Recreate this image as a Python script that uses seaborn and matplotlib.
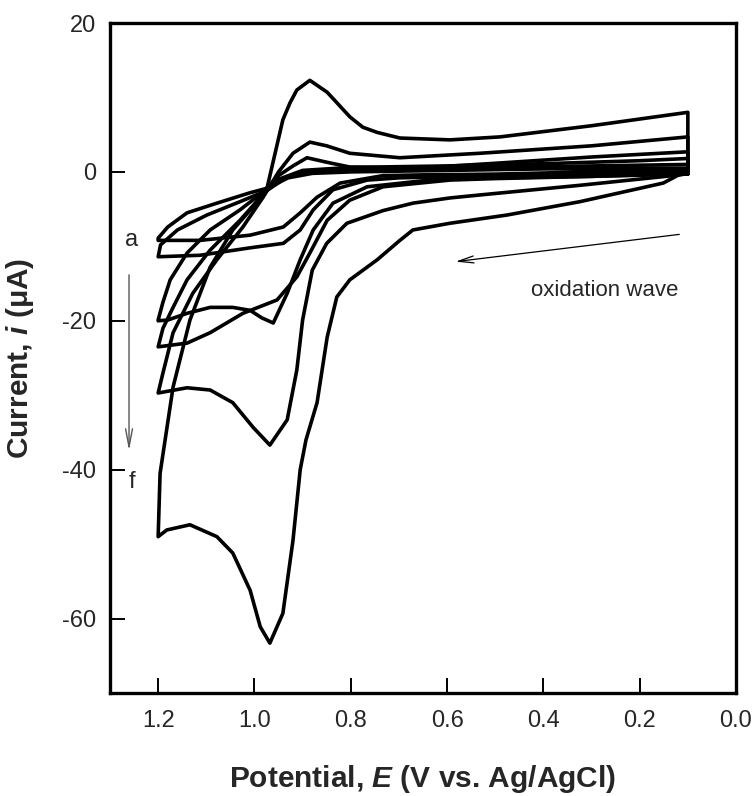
import numpy as np
import pandas as pd
import matplotlib
matplotlib.use("Agg")
import matplotlib.pyplot as plt
import seaborn as sns

# 循环伏安曲线 a-f（正扫: 0.1 -> 1.2 V，回扫: 1.2 -> 0.1 V）
a_fwd_E = [0.10, 0.30, 0.50, 0.65, 0.733, 0.822, 0.87, 0.905, 0.94, 1.009, 1.113, 1.20]
a_fwd_I = [0.3, 0.0, -0.3, -0.4, -0.5, -1.5, -3.4, -5.5, -7.4, -8.5, -9.2, -9.2]
a_rev_E = [1.20, 1.18, 1.14, 1.078, 1.009, 0.974, 0.93, 0.88, 0.80, 0.60, 0.40, 0.20, 0.10]
a_rev_I = [-8.9, -7.4, -5.5, -4.2, -2.8, -2.2, -0.8, -0.2, 0.0, 0.2, 0.4, 0.5, 0.5]

b_fwd_E = [0.10, 0.30, 0.50, 0.70, 0.766, 0.837, 0.878, 0.905, 0.94, 1.009, 1.113, 1.20]
b_fwd_I = [0.0, -0.3, -0.5, -0.8, -1.1, -2.4, -5.1, -7.8, -9.6, -10.2, -11.2, -11.4]
b_rev_E = [1.20, 1.195, 1.16, 1.099, 1.03, 0.974, 0.93, 0.89, 0.80, 0.60, 0.40, 0.20, 0.10]
b_rev_I = [-11.4, -9.8, -7.8, -5.8, -4.0, -2.5, -0.6, 0.1, 0.3, 0.5, 0.7, 0.9, 1.0]

c_fwd_E = [0.10, 0.30, 0.50, 0.594, 0.766, 0.837, 0.878, 0.905, 0.932, 0.961, 0.985,
           1.009, 1.045, 1.092, 1.14, 1.18, 1.20]
c_fwd_I = [-0.3, -0.6, -0.8, -0.8, -2.0, -4.2, -7.8, -11.8, -16.3, -20.3, -19.6,
           -18.6, -18.2, -18.2, -19.0, -19.9, -20.0]
c_rev_E = [1.20, 1.19, 1.175, 1.14, 1.092, 1.03, 0.982, 0.95, 0.92, 0.891, 0.85,
           0.802, 0.662, 0.49, 0.30, 0.10]
c_rev_I = [-19.9, -17.5, -14.5, -10.9, -7.8, -5.1, -2.7, -0.5, 0.8, 1.9, 1.3,
           0.65, 0.5, 1.2, 2.0, 2.7]

d_fwd_E = [0.10, 0.30, 0.50, 0.594, 0.733, 0.802, 0.849, 0.885, 0.912, 0.953,
           1.024, 1.092, 1.14, 1.20]
d_fwd_I = [-0.2, -0.6, -0.9, -1.1, -2.0, -3.8, -6.5, -10.9, -14.1, -17.2,
           -19.0, -21.6, -23.0, -23.5]
d_rev_E = [1.20, 1.19, 1.169, 1.14, 1.092, 1.03, 0.982, 0.95, 0.90, 0.80, 0.60,
           0.40, 0.20, 0.10]
d_rev_I = [-23.5, -21.0, -18.2, -14.5, -10.5, -6.5, -3.0, -1.0, 0.2, 0.6, 0.8,
           1.1, 1.5, 1.8]

e_fwd_E = [0.10, 0.116, 0.324, 0.532, 0.594, 0.671, 0.733, 0.808, 0.85, 0.88, 0.90,
           0.912, 0.932, 0.968, 1.003, 1.045, 1.092, 1.14, 1.20]
e_fwd_I = [-0.2, -0.4, -1.8, -3.1, -3.5, -4.2, -5.2, -6.9, -9.6, -13.2, -19.9,
           -26.6, -33.3, -36.7, -34.3, -31.0, -29.3, -29.0, -29.7]
e_rev_E = [1.20, 1.19, 1.169, 1.128, 1.078, 1.024, 0.982, 0.95, 0.92, 0.885, 0.85,
           0.802, 0.698, 0.532, 0.30, 0.10]
e_rev_I = [-29.7, -27.0, -21.6, -16.3, -11.8, -7.4, -3.4, 0.0, 2.5, 4.0, 3.5,
           2.5, 1.9, 2.5, 3.5, 4.7]

f_fwd_E = [0.10, 0.151, 0.324, 0.476, 0.594, 0.671, 0.698, 0.745, 0.802, 0.829,
           0.849, 0.870, 0.893, 0.905, 0.920, 0.941, 0.968, 0.988, 1.009, 1.045,
           1.078, 1.134, 1.182, 1.20]
f_fwd_I = [0.25, -1.5, -4.0, -5.8, -6.9, -7.8, -9.2, -11.8, -14.5, -16.8,
           -22.2, -31.0, -36.0, -40.0, -49.5, -59.3, -63.3, -61.1, -56.2, -51.2,
           -49.0, -47.4, -48.1, -49.0]
f_rev_E = [1.20, 1.196, 1.169, 1.134, 1.092, 1.045, 1.003, 0.974, 0.941, 0.926,
           0.912, 0.885, 0.849, 0.829, 0.802, 0.775, 0.745, 0.698, 0.594, 0.49,
           0.30, 0.10]
f_rev_I = [-49.0, -40.5, -28.9, -19.9, -12.8, -7.8, -4.7, -2.2, 7.0, 9.3,
           11.0, 12.3, 10.7, 9.3, 7.4, 6.0, 5.3, 4.55, 4.3, 4.7,
           6.2, 8.0]

curves = {
    'a': (a_fwd_E, a_fwd_I, a_rev_E, a_rev_I),
    'b': (b_fwd_E, b_fwd_I, b_rev_E, b_rev_I),
    'c': (c_fwd_E, c_fwd_I, c_rev_E, c_rev_I),
    'd': (d_fwd_E, d_fwd_I, d_rev_E, d_rev_I),
    'e': (e_fwd_E, e_fwd_I, e_rev_E, e_rev_I),
    'f': (f_fwd_E, f_fwd_I, f_rev_E, f_rev_I),
}

x_ticks = [1.2, 1.0, 0.8, 0.6, 0.4, 0.2, 0.0]
y_ticks = [20, 0, -20, -40, -60]

# 组装成长表
rows = []
for name, (fe, fi, re_, ri) in curves.items():
    E = list(fe) + list(re_) + [fe[0]]
    I = list(fi) + list(ri) + [fi[0]]
    for k, (e, i) in enumerate(zip(E, I)):
        rows.append({'curve': name, 'order': k, 'E': e, 'I': i})
df = pd.DataFrame(rows)

sns.set_style('ticks')
plt.rcParams['font.family'] = ['Liberation Sans', 'DejaVu Sans']
plt.rcParams['mathtext.fontset'] = 'custom'
plt.rcParams['mathtext.it'] = 'Liberation Sans:italic:bold'
plt.rcParams['mathtext.rm'] = 'Liberation Sans:bold'
plt.rcParams['mathtext.bf'] = 'Liberation Sans:bold'

fig = plt.figure(figsize=(7.56, 7.96), dpi=100)
ax = fig.add_axes([110 / 756, 1 - 693 / 796, 626 / 756, 670 / 796])

sns.lineplot(data=df, x='E', y='I', units='curve', estimator=None, sort=False,
             color='black', lw=2.6, ax=ax, legend=False,
             solid_joinstyle='round', solid_capstyle='round')

ax.set_xlim(1.3, 0.0)
ax.set_ylim(-70, 20)
ax.set_xticks(x_ticks)
ax.set_xticklabels([f'{v:.1f}' for v in x_ticks])
ax.set_yticks(y_ticks)
ax.set_yticklabels([str(v) for v in y_ticks])
ax.tick_params(direction='in', length=11, width=1.4, labelsize=17,
               top=False, right=False, color='black')
ax.tick_params(axis='x', pad=12)
ax.tick_params(axis='y', pad=10)
for sp in ax.spines.values():
    sp.set_linewidth(2.4)
    sp.set_color('black')

ax.set_xlabel(r'Potential, $E$ (V vs. Ag/AgCl)', fontsize=21.5, fontweight='bold')
ax.set_ylabel(r'Current, $i$ (μA)', fontsize=21.5, fontweight='bold')
ax.xaxis.set_label_coords(0.5, -0.105)
ax.yaxis.set_label_coords(-0.118, 0.5)

# 标注
ax.text(1.255, -9.2, 'a', fontsize=17, ha='center', va='center')
ax.text(1.255, -41.7, 'f', fontsize=17, ha='center', va='center')
ax.annotate('', xy=(1.2605, -37.8), xytext=(1.2605, -13.45),
            arrowprops=dict(arrowstyle='->,head_length=1.3,head_width=0.25',
                            color='#555555', lw=1.0))
ax.annotate('', xy=(0.588, -12.1), xytext=(0.112, -8.35),
            arrowprops=dict(arrowstyle='->,head_length=1.1,head_width=0.25',
                            color='black', lw=0.9))
ax.text(0.272, -15.9, 'oxidation wave', fontsize=16, ha='center', va='center')

fig.savefig('out.png', dpi=100)
plt.close(fig)
